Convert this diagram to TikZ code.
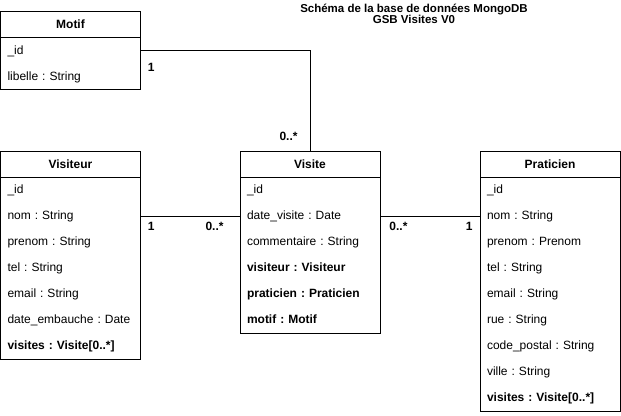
\documentclass[tikz,border=0pt]{standalone}
\usepackage{fontspec}
\setmainfont{Liberation Sans}
\frenchspacing
\usetikzlibrary{positioning}
\tikzset{
  class head/.style={
    draw,
    font=\fontsize{12}{14}\selectfont\bfseries,
    minimum width=140pt,
    minimum height=26pt,
    inner sep=0pt,
    outer sep=0pt,
  },
  attr/.style={
    font=\fontsize{12}{14}\selectfont,
    text width=126pt,
    inner xsep=7pt,
    inner ysep=0pt,
    outer sep=0pt,
    minimum height=26pt,
    text height=9pt,
    text depth=2pt,
    align=left,
  },
  key attr/.style={
    attr,
    font=\fontsize{12}{14}\selectfont\bfseries,
  },
  mult/.style={
    font=\fontsize{12}{14}\selectfont\bfseries,
    inner sep=0pt,
  },
}

\begin{document}
\begin{tikzpicture}[x=1pt, y=-1pt, node distance=0pt, line width=0.9pt]
        \useasboundingbox (0,0) rectangle (621,415);

        % titre
        \node [font=\fontsize{11.5}{11.5}\selectfont\bfseries, align=center] (titre) at (414,14)
          {Schéma de la base de données MongoDB\\GSB Visites V0};

        % Motif
        \node [class head, anchor=north west] (mh) at (0.5,11.5) {Motif};
        \node [attr, below=of mh] (m1) {\_id};
        \node [attr, below=of m1] (m2) {libelle : String};
        \draw (mh.south west) rectangle (m2.south east);

        % Visiteur
        \node [class head, anchor=north west] (vh) at (0.5,151) {Visiteur};
        \node [attr, below=of vh] (v1) {\_id};
        \node [attr, below=of v1] (v2) {nom : String};
        \node [attr, below=of v2] (v3) {prenom : String};
        \node [attr, below=of v3] (v4) {tel : String};
        \node [attr, below=of v4] (v5) {email : String};
        \node [attr, below=of v5] (v6) {date\_embauche : Date};
        \node [key attr, below=of v6] (v7) {visites : Visite[0..*]};
        \draw (vh.south west) rectangle (v7.south east);

        % Visite
        \node [class head, anchor=north west] (sh) at (240,151) {Visite};
        \node [attr, below=of sh] (s1) {\_id};
        \node [attr, below=of s1] (s2) {date\_visite : Date};
        \node [attr, below=of s2] (s3) {commentaire : String};
        \node [key attr, below=of s3] (s4) {visiteur : Visiteur};
        \node [key attr, below=of s4] (s5) {praticien : Praticien};
        \node [key attr, below=of s5] (s6) {motif : Motif};
        \draw (sh.south west) rectangle (s6.south east);

        % Praticien
        \node [class head, anchor=north west] (ph) at (480,151) {Praticien};
        \node [attr, below=of ph] (p1) {\_id};
        \node [attr, below=of p1] (p2) {nom : String};
        \node [attr, below=of p2] (p3) {prenom : Prenom};
        \node [attr, below=of p3] (p4) {tel : String};
        \node [attr, below=of p4] (p5) {email : String};
        \node [attr, below=of p5] (p6) {rue : String};
        \node [attr, below=of p6] (p7) {code\_postal : String};
        \node [attr, below=of p7] (p8) {ville : String};
        \node [key attr, below=of p8] (p9) {visites : Visite[0..*]};
        \draw (ph.south west) rectangle (p9.south east);

        % associations
        \draw (m1.east) -| (sh.north);
        \draw (v2.east) -- (s2.west);
        \draw (s2.east) -- (p2.west);

        \node [mult, below right=12pt and 7pt of m1.east] {1};
        \node [mult, above left=10pt and 12pt of sh.north] {0..*};
        \node [mult, below right=6pt and 7pt of v2.east] {1};
        \node [mult, below left=6pt and 16pt of s2.west] {0..*};
        \node [mult, below right=6pt and 9pt of s2.east] {0..*};
        \node [mult, below left=6pt and 7pt of p2.west] {1};
      \end{tikzpicture}
\end{document}
